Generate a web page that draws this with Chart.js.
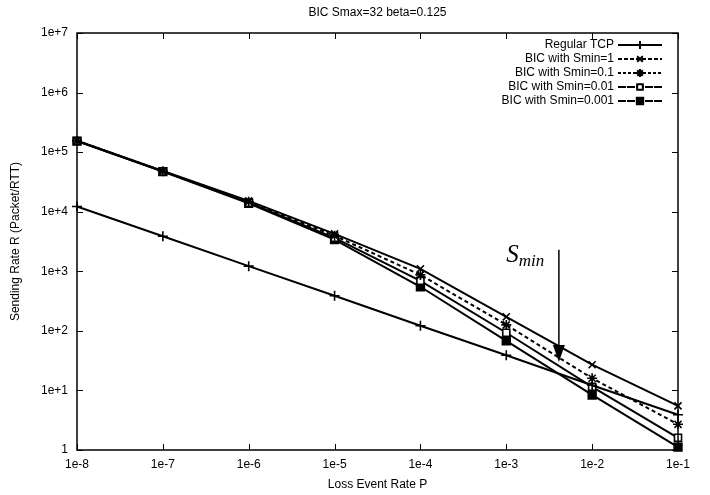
<!DOCTYPE html>
<html>
<head>
<meta charset="utf-8">
<script src="https://cdn.jsdelivr.net/npm/chart.js@4"></script>
<style>
  html, body { margin: 0; padding: 0; background: #fff; }
  #wrap { width: 710px; height: 495px; }
</style>
</head>
<body>
<div id="wrap"><canvas id="grafico" width="710" height="495"></canvas></div>
<script>
// valores
const lossRates = [1e-8, 1e-7, 1e-6, 1e-5, 1e-4, 1e-3, 1e-2, 1e-1];
const regularTcp = [12200, 3880, 1220, 388, 122, 39, 12.2, 3.9];
const bicSmin1 = [155000, 48500, 15200, 4250, 1100, 172, 27, 5.5];
const bicSmin01 = [155000, 48000, 14700, 3950, 870, 126, 16, 2.7];
const bicSmin001 = [154000, 47500, 14200, 3650, 690, 93, 11.5, 1.6];
const bicSmin0001 = [153000, 47000, 13800, 3400, 550, 68, 8.4, 1.12];

const xTickValues = [1e-8, 1e-7, 1e-6, 1e-5, 1e-4, 1e-3, 1e-2, 1e-1];
const xTickLabels = ["1e-8", "1e-7", "1e-6", "1e-5", "1e-4", "1e-3", "1e-2", "1e-1"];
const yTickValues = [1, 10, 100, 1e3, 1e4, 1e5, 1e6, 1e7];
const yTickLabels = ["1", "1e+1", "1e+2", "1e+3", "1e+4", "1e+5", "1e+6", "1e+7"];

const seriesNames = ["Regular TCP", "BIC with Smin=1", "BIC with Smin=0.1", "BIC with Smin=0.01", "BIC with Smin=0.001"];

// anotação S_min (seta)
const arrowX = 4.1e-3;
const arrowTop = 2300;
const arrowTip = 30;
const sminTextX = 1e-3;
const sminTextY = 1440;

const pts = (vals) => lossRates.map((x, i) => ({ x: x, y: vals[i] }));

const styles = [
  { pointStyle: "cross", radius: 5, dash: [], legendDash: [], bg: "#000" },
  { pointStyle: "crossRot", radius: 5, dash: [], legendDash: [4, 2], bg: "#000" },
  { pointStyle: "star", radius: 5, dash: [4, 3], legendDash: [3, 2], bg: "#000" },
  { pointStyle: "rect", radius: 5, dash: [], legendDash: [8, 1], bg: "#fff" },
  { pointStyle: "rect", radius: 5.5, dash: [], legendDash: [8, 1], bg: "#000" },
];

const allSeries = [regularTcp, bicSmin1, bicSmin01, bicSmin001, bicSmin0001];

const datasets = allSeries.map((vals, i) => ({
  label: seriesNames[i],
  data: pts(vals),
  showLine: true,
  borderColor: "#000",
  backgroundColor: styles[i].bg,
  borderWidth: 2,
  borderDash: styles[i].dash,
  pointStyle: styles[i].pointStyle,
  pointRadius: styles[i].radius,
  pointBorderWidth: 1.6,
  pointBorderColor: "#000",
  pointBackgroundColor: styles[i].bg,
  tension: 0,
  clip: false,
}));

const extras = {
  id: "extras",
  afterDraw(chart) {
    const { ctx, chartArea: a } = chart;
    const xs = chart.scales.x;
    const ys = chart.scales.y;
    ctx.save();

    // moldura
    ctx.strokeStyle = "#000";
    ctx.lineWidth = 1.5;
    ctx.setLineDash([]);
    ctx.strokeRect(a.left, a.top, a.right - a.left, a.bottom - a.top);

    // ticks para dentro, nos quatro lados
    ctx.lineWidth = 1;
    ctx.beginPath();
    xTickValues.forEach((v) => {
      const px = Math.round(xs.getPixelForValue(v)) + 0.5;
      ctx.moveTo(px, a.bottom); ctx.lineTo(px, a.bottom - 6);
      ctx.moveTo(px, a.top); ctx.lineTo(px, a.top + 6);
    });
    yTickValues.forEach((v) => {
      const py = Math.round(ys.getPixelForValue(v)) + 0.5;
      ctx.moveTo(a.left, py); ctx.lineTo(a.left + 6, py);
      ctx.moveTo(a.right, py); ctx.lineTo(a.right - 6, py);
    });
    ctx.stroke();

    // título
    ctx.fillStyle = "#000";
    ctx.font = "12px 'Liberation Sans', Arial, sans-serif";
    ctx.textAlign = "center";
    ctx.textBaseline = "middle";
    ctx.fillText("BIC Smax=32 beta=0.125", (a.left + a.right) / 2, 13);

    // legenda
    ctx.textAlign = "right";
    seriesNames.forEach((name, i) => {
      const y = a.top + 12 + i * 14;
      ctx.fillStyle = "#000";
      ctx.fillText(name, a.right - 64, y);
      ctx.setLineDash(styles[i].legendDash);
      ctx.lineWidth = 2;
      ctx.beginPath();
      ctx.moveTo(a.right - 60, y);
      ctx.lineTo(a.right - 16, y);
      ctx.stroke();
      ctx.setLineDash([]);
      ctx.fillStyle = styles[i].bg;
      Chart.helpers.drawPoint(ctx, {
        pointStyle: styles[i].pointStyle,
        radius: styles[i].radius - 1,
        rotation: 0,
        borderWidth: 1.6,
      }, a.right - 38, y);
    });

    // seta S_min
    const ax = xs.getPixelForValue(arrowX);
    const ay0 = ys.getPixelForValue(arrowTop);
    const ay1 = ys.getPixelForValue(arrowTip);
    ctx.strokeStyle = "#000";
    ctx.fillStyle = "#000";
    ctx.lineWidth = 1.5;
    ctx.beginPath();
    ctx.moveTo(ax, ay0);
    ctx.lineTo(ax, ay1 - 10);
    ctx.stroke();
    ctx.beginPath();
    ctx.moveTo(ax, ay1);
    ctx.lineTo(ax - 6, ay1 - 17);
    ctx.lineTo(ax + 6, ay1 - 17);
    ctx.closePath();
    ctx.fill();

    const tx = xs.getPixelForValue(sminTextX);
    const ty = ys.getPixelForValue(sminTextY);
    ctx.textAlign = "left";
    ctx.textBaseline = "alphabetic";
    ctx.font = "italic 25px 'Liberation Serif', 'DejaVu Serif', serif";
    ctx.fillText("S", tx, ty);
    const sw = ctx.measureText("S").width;
    ctx.font = "italic 17px 'Liberation Serif', 'DejaVu Serif', serif";
    ctx.fillText("min", tx + sw, ty + 4);

    ctx.restore();
  },
};

const ctx = document.getElementById("grafico");

new Chart(ctx, {
  type: "scatter",
  data: { datasets: datasets },
  options: {
    responsive: false,
    animation: false,
    layout: { padding: { left: 0, right: 32, top: 33, bottom: 0 }, autoPadding: false },
    plugins: {
      legend: { display: false },
      tooltip: { enabled: false },
    },
    scales: {
      x: {
        type: "logarithmic",
        min: 1e-8,
        max: 1e-1,
        grid: { display: false, drawTicks: false },
        border: { display: false },
        afterBuildTicks: (scale) => {
          scale.ticks = xTickValues.map((v) => ({ value: v }));
        },
        afterFit: (scale) => { scale.height = 45; },
        ticks: {
          autoSkip: false,
          maxRotation: 0,
          padding: 7,
          color: "#000",
          font: { family: "'Liberation Sans', Arial, sans-serif", size: 12 },
          callback: function (value) {
            const i = xTickValues.findIndex((v) => Math.abs(Math.log10(v) - Math.log10(value)) < 1e-6);
            return i >= 0 ? xTickLabels[i] : "";
          },
        },
        title: {
          display: true,
          text: "Loss Event Rate P",
          color: "#000",
          font: { family: "'Liberation Sans', Arial, sans-serif", size: 12 },
          padding: { top: 0, bottom: 3 },
        },
      },
      y: {
        type: "logarithmic",
        min: 1,
        max: 1e7,
        grid: { display: false, drawTicks: false },
        border: { display: false },
        afterBuildTicks: (scale) => {
          scale.ticks = yTickValues.map((v) => ({ value: v }));
        },
        afterFit: (scale) => { scale.width = 77; },
        ticks: {
          autoSkip: false,
          padding: 9,
          color: "#000",
          font: { family: "'Liberation Sans', Arial, sans-serif", size: 12 },
          callback: function (value) {
            const i = yTickValues.findIndex((v) => Math.abs(Math.log10(v) - Math.log10(value)) < 1e-6);
            return i >= 0 ? yTickLabels[i] : "";
          },
        },
        title: {
          display: true,
          text: "Sending Rate R (Packet/RTT)",
          color: "#000",
          font: { family: "'Liberation Sans', Arial, sans-serif", size: 12 },
          padding: { top: 8, bottom: 0 },
        },
      },
    },
  },
  plugins: [extras],
});
</script>
</body>
</html>
